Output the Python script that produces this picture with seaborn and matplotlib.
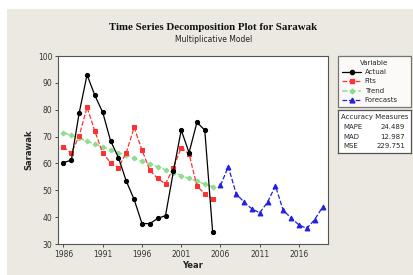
import matplotlib
matplotlib.use("Agg")
import matplotlib.pyplot as plt
import seaborn as sns
import pandas as pd
from matplotlib.patches import Rectangle
from matplotlib.lines import Line2D

# ---- data ----
years_hist = list(range(1986, 2006))
actual = [60.3, 61.2, 78.8, 93.0, 85.3, 79.0, 68.4, 62.2, 53.4, 46.6,
          37.6, 37.6, 39.5, 40.6, 57.0, 72.4, 64.0, 75.3, 72.4, 34.5]
fits = [66.2, 63.8, 70.3, 80.9, 72.0, 63.8, 60.3, 58.4, 64.0, 73.4,
        65.0, 57.4, 54.4, 52.4, 58.4, 65.9, 63.5, 51.6, 48.7, 46.9]
trend = [71.5, 70.4, 69.4, 68.3, 67.2, 66.2, 65.1, 64.0, 63.0, 61.9,
         60.8, 59.8, 58.7, 57.6, 56.6, 55.5, 54.4, 53.4, 52.3, 51.3]
years_fc = list(range(2006, 2020))
forecast = [51.8, 58.8, 48.7, 45.6, 43.1, 41.6, 45.6, 51.6, 42.5, 39.7,
            37.1, 35.8, 39.1, 43.7]
xticks = [1986, 1991, 1996, 2001, 2006, 2011, 2016]
yticks = [30, 40, 50, 60, 70, 80, 90, 100]
acc_names = ["MAPE", "MAD", "MSE"]
acc_values = ["24.489", "12.987", "229.751"]

sns.set_style("ticks")
plt.rcParams['font.family'] = ['DejaVu Sans']

BG = "#ECE9E2"
fig = plt.figure(figsize=(4.14, 2.75), dpi=100)
fig.patch.set_facecolor("white")
fig.patches.append(Rectangle((7/414, 0), 1, 1 - 9/275, transform=fig.transFigure,
                             facecolor=BG, edgecolor="none", zorder=-10))

ax = fig.add_axes([58/414, 1 - 244/275, 270/414, 188/275])
ax.set_facecolor("white")

df_h = pd.DataFrame({"Year": years_hist, "Actual": actual, "Fits": fits, "Trend": trend})
df_f = pd.DataFrame({"Year": years_fc, "Forecasts": forecast})

GREEN = "#8fdc8f"
ms = 3.0
sns.lineplot(data=df_h, x="Year", y="Trend", ax=ax, color=GREEN, linestyle="--",
             marker="D", markersize=2.5, markeredgecolor=GREEN, linewidth=1.1)
sns.lineplot(data=df_h, x="Year", y="Fits", ax=ax, color="#ff3030", linestyle="--",
             marker="s", markersize=ms, markeredgecolor="#ff3030", linewidth=0.9)
sns.lineplot(data=df_h, x="Year", y="Actual", ax=ax, color="black", linestyle="-",
             marker="o", markersize=ms, markeredgecolor="black", linewidth=0.9)
sns.lineplot(data=df_f, x="Year", y="Forecasts", ax=ax, color="#2020e0", linestyle="--",
             marker="^", markersize=ms + 0.5, markeredgecolor="#2020e0", linewidth=0.9)

ax.set_xlim(1985.3, 2019.7)
ax.set_ylim(30, 100)
ax.set_xticks(xticks)
ax.set_yticks(yticks)
ax.tick_params(labelsize=5.5, length=2.5, width=0.6, colors="#333333", pad=1.5)
for s in ax.spines.values():
    s.set_color("#555555")
    s.set_linewidth(0.8)
ax.set_xlabel("Year", fontsize=6, fontweight="bold", labelpad=2)
ax.set_ylabel("Sarawak", fontsize=6, fontweight="bold", labelpad=3)

fig.text(0.515, 1 - 28/275, "Time Series Decomposition Plot for Sarawak",
         ha="center", va="center", fontsize=7.8, fontweight="bold",
         family="Liberation Serif", color="#111111")
fig.text(0.515, 1 - 40/275, "Multiplicative Model", ha="center", va="center",
         fontsize=5.5, color="#222222")

# Variable legend
handles = [
    Line2D([], [], color="black", linestyle="-", marker="o", markersize=ms, linewidth=0.9),
    Line2D([], [], color="#ff3030", linestyle="--", marker="s", markersize=ms, linewidth=0.9),
    Line2D([], [], color=GREEN, linestyle="--", marker="D", markersize=2.5, linewidth=1.1),
    Line2D([], [], color="#2020e0", linestyle="--", marker="^", markersize=ms + 0.5, linewidth=0.9),
]
labels = ["Actual", "Fits", "Trend", "Forecasts"]
x0, x1 = 338/414, 411/414
leg = fig.legend(handles, labels, title="Variable", loc="upper left",
                 bbox_to_anchor=(x0, 1 - 56/275, x1 - x0, 0.001), mode="expand",
                 fontsize=5, title_fontsize=5, frameon=True, fancybox=False,
                 borderpad=0.55, labelspacing=0.5, handlelength=2.8,
                 handletextpad=0.5, borderaxespad=0)
leg.get_frame().set_edgecolor("#555555")
leg.get_frame().set_linewidth(0.9)
leg.get_frame().set_facecolor("white")

# Accuracy measures box
bx = fig.add_axes([x0, 1 - 153/275, x1 - x0, 43/275])
bx.set_xlim(0, 1)
bx.set_ylim(0, 1)
bx.set_xticks([])
bx.set_yticks([])
bx.set_facecolor("white")
for s in bx.spines.values():
    s.set_color("#555555")
    s.set_linewidth(0.9)
bx.text(0.5, 0.84, "Accuracy Measures", ha="center", va="center", fontsize=5)
for i, (n, v) in enumerate(zip(acc_names, acc_values)):
    y = 0.6 - i * 0.22
    bx.text(0.08, y, n, ha="left", va="center", fontsize=5)
    bx.text(0.92, y, v, ha="right", va="center", fontsize=5)

fig.savefig("out.png", dpi=100)
